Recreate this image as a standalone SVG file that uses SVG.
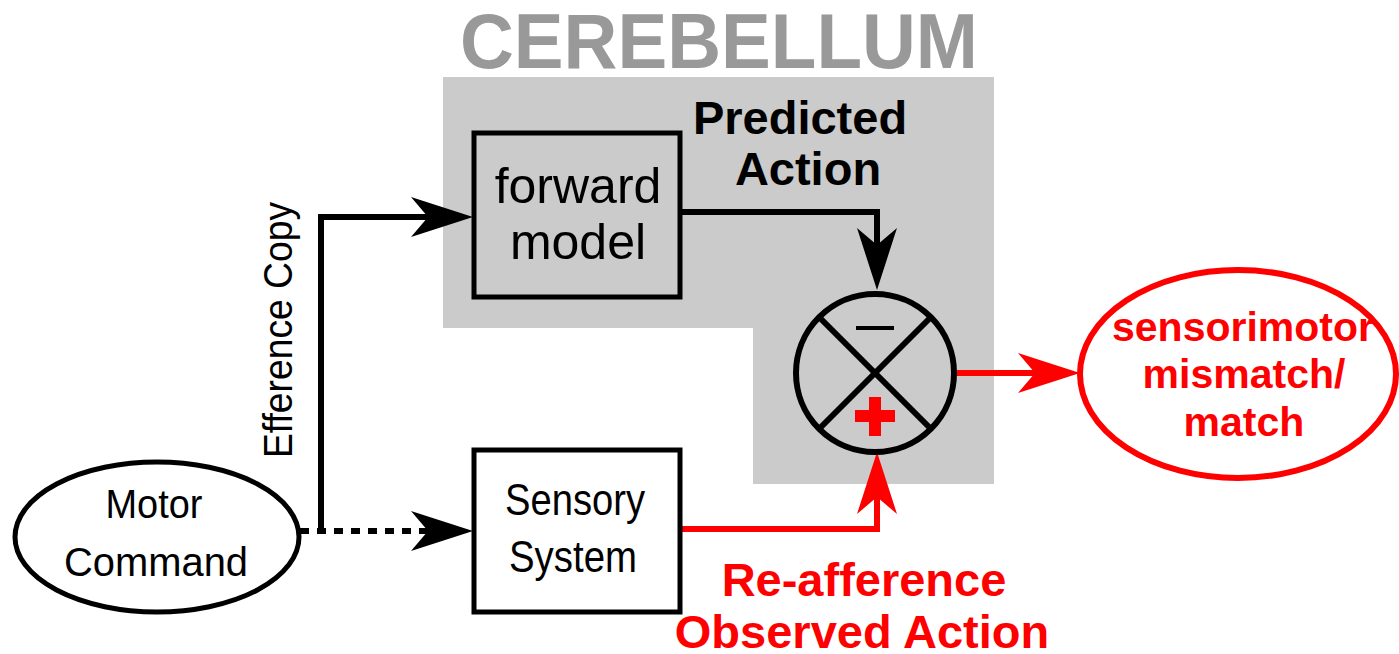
<svg xmlns="http://www.w3.org/2000/svg" width="1399" height="654" viewBox="0 0 1399 654">
<defs>
<style>
.box{fill:none;stroke:#000;stroke-width:5}
.blk{fill:none;stroke:#000;stroke-width:6}
.red{fill:none;stroke:#f00;stroke-width:6}
.lbl{font-family:"Liberation Sans",Arial,sans-serif;text-anchor:middle}
.bold{font-weight:bold}
</style>
<marker id="ab" markerUnits="userSpaceOnUse" viewBox="-45 -22 67 44" refX="0" refY="0" markerWidth="67" markerHeight="44" orient="auto">
<path d="M20,0 L-42,-20 L-25,0 L-42,20 Z" fill="#000"/>
</marker>
<marker id="ar" markerUnits="userSpaceOnUse" viewBox="-45 -22 67 44" refX="0" refY="0" markerWidth="67" markerHeight="44" orient="auto">
<path d="M20,0 L-42,-20 L-25,0 L-42,20 Z" fill="#f00"/>
</marker>
</defs>
<rect width="1399" height="654" fill="#fff"/>
<g id="cerebellum">
<path d="M443,77 H994 V484 H753 V328 H443 Z" fill="#cbcbcb"/>
<text class="lbl bold" x="719" y="68" font-size="78" fill="#999" textLength="518" lengthAdjust="spacingAndGlyphs">CEREBELLUM</text>
</g>
<g id="connectors">
<path class="blk" d="M680,212 H877 V270" marker-end="url(#ab)"/>
<path class="blk" d="M321,531 V217 H453" marker-end="url(#ab)"/>
<path class="blk" d="M300,531 H453" stroke-dasharray="9 8" marker-end="url(#ab)"/>
<path class="red" d="M680,529 H877 V472" marker-end="url(#ar)"/>
<path class="red" d="M956,373 H1060" marker-end="url(#ar)"/>
<text class="lbl bold" x="800" y="134" font-size="47" fill="#000">Predicted</text>
<text class="lbl bold" x="808" y="185" font-size="47" fill="#000">Action</text>
<text class="lbl bold" x="864" y="596" font-size="47" fill="#f00">Re-afference</text>
<text class="lbl bold" x="862" y="648" font-size="47" fill="#f00">Observed Action</text>
<text class="lbl" transform="translate(292,330) rotate(-90)" font-size="40" fill="#000" textLength="256" lengthAdjust="spacingAndGlyphs">Efference Copy</text>
</g>
<g id="forward-model">
<rect class="box" x="474" y="133" width="206" height="164" fill="none"/>
<text class="lbl" x="578" y="203" font-size="50">forward</text>
<text class="lbl" x="578" y="259" font-size="50">model</text>
</g>
<g id="sensory-system">
<rect class="box" x="474" y="450" width="206" height="162" fill="#fff"/>
<text class="lbl" x="575" y="515" font-size="44" textLength="140" lengthAdjust="spacingAndGlyphs">Sensory</text>
<text class="lbl" x="573" y="572" font-size="44" textLength="128" lengthAdjust="spacingAndGlyphs">System</text>
</g>
<g id="comparator">
<circle cx="875" cy="373" r="79" fill="none" stroke="#000" stroke-width="6"/>
<line x1="819" y1="317" x2="931" y2="429" stroke="#000" stroke-width="6"/>
<line x1="931" y1="317" x2="819" y2="429" stroke="#000" stroke-width="6"/>
<line x1="856" y1="328" x2="894" y2="328" stroke="#000" stroke-width="4"/>
<path d="M869,397 H881 V410 H895 V422 H881 V436 H869 V422 H855 V410 H869 Z" fill="#f00"/>
</g>
<g id="motor-command">
<ellipse cx="157" cy="537" rx="142" ry="75" fill="#fff" stroke="#000" stroke-width="5"/>
<text class="lbl" x="154" y="518" font-size="40" textLength="97" lengthAdjust="spacingAndGlyphs">Motor</text>
<text class="lbl" x="156" y="576" font-size="40" textLength="184" lengthAdjust="spacingAndGlyphs">Command</text>
</g>
<g id="mismatch">
<ellipse cx="1238" cy="374" rx="158" ry="104" fill="#fff" stroke="#f00" stroke-width="6"/>
<text class="lbl bold" x="1243" y="341" font-size="41" fill="#f00">sensorimotor</text>
<text class="lbl bold" x="1244" y="388" font-size="41" fill="#f00">mismatch/</text>
<text class="lbl bold" x="1244" y="436" font-size="41" fill="#f00">match</text>
</g>
</svg>
